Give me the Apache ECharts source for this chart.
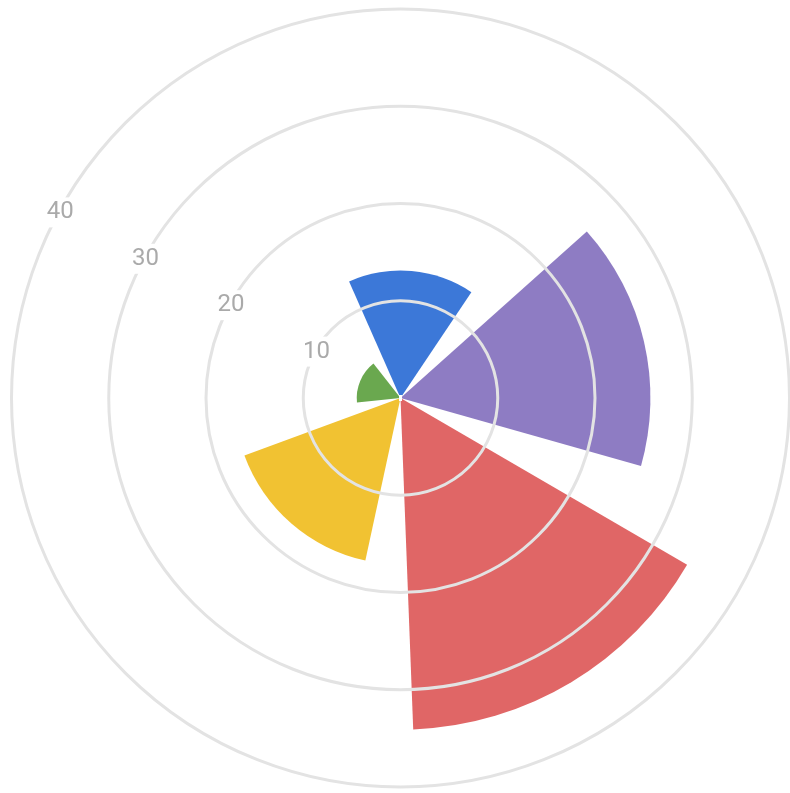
<!DOCTYPE html>
<html>
<head>
<meta charset="utf-8">
<script src="https://cdn.jsdelivr.net/npm/echarts@6/dist/echarts.min.js"></script>
<style>
html,body{margin:0;padding:0;background:#fff;}
#chart{width:790px;height:793px;}
</style>
</head>
<body>
<div id="chart"></div>
<script>
var categories = ['A', 'B', 'C', 'D', 'E'];
var values = [13.1, 25.7, 34.1, 17.1, 4.5];
var colors = ['#3c78d8', '#8e7cc3', '#e06666', '#f1c232', '#6aa84f'];
var tickValues = [10, 20, 30, 40];

var chart = echarts.init(document.getElementById('chart'));
var center = [400.5, 398];
var radius = 389;
chart.setOption({
  animation: false,
  backgroundColor: '#ffffff',
  polar: [
    { center: center, radius: radius },
    { center: center, radius: radius }
  ],
  angleAxis: [
    {
      polarIndex: 0, type: 'category', data: categories, startAngle: 121, clockwise: true,
      axisLine: { show: false }, axisTick: { show: false }, axisLabel: { show: false },
      splitLine: { show: false }
    },
    {
      polarIndex: 1, type: 'value', min: 0, max: 360, startAngle: 151.5,
      axisLine: { show: false }, axisTick: { show: false }, axisLabel: { show: false },
      splitLine: { show: false }
    }
  ],
  radiusAxis: [
    {
      polarIndex: 0, type: 'value', min: 0, max: 40, interval: 10,
      axisLine: { show: false }, axisTick: { show: false }, axisLabel: { show: false },
      splitLine: { show: false }
    },
    {
      polarIndex: 1, type: 'value', min: 0, max: 40, interval: 10, z: 10,
      axisLine: { show: false }, axisTick: { show: false },
      splitLine: { show: true, lineStyle: { color: '#e3e3e3', width: 3 } },
      axisLabel: {
        show: true, margin: 0, align: 'center', verticalAlign: 'middle',
        color: '#aaaaaa', fontSize: 24, fontFamily: 'Roboto, sans-serif',
        backgroundColor: '#ffffff', padding: [6, 0, 0, 3],
        formatter: function (v) { return tickValues.indexOf(v) >= 0 ? String(v) : ''; }
      }
    }
  ],
  series: [{
    type: 'bar',
    coordinateSystem: 'polar',
    polarIndex: 0,
    barCategoryGap: '20%',
    data: values.map(function (v, i) { return { value: v, itemStyle: { color: colors[i] } }; })
  }]
});
</script>
</body>
</html>
